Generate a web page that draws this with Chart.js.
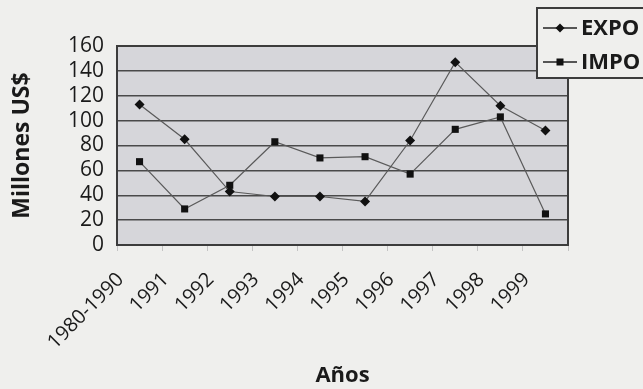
<!DOCTYPE html>
<html>
<head>
<meta charset="utf-8">
<script src="https://cdn.jsdelivr.net/npm/chart.js@4/dist/chart.umd.min.js"></script>
<style>
  html, body { margin: 0; padding: 0; background: #efefed; }
  #wrap { width: 643px; height: 389px; position: relative; }
</style>
</head>
<body>
<div id="wrap"><canvas id="grafico"></canvas></div>
<script>
// datos
const anios = ['1980-1990', '1991', '1992', '1993', '1994', '1995', '1996', '1997', '1998', '1999'];
const expo = [113, 85, 43, 39, 39, 35, 84, 147, 112, 92];
const impo = [67, 29, 48, 83, 70, 71, 57, 93, 103, 25];
const ticksY = [0, 20, 40, 60, 80, 100, 120, 140, 160];

const colorLinea = '#5a5a5a';
const colorMarca = '#111111';
const fuente = "'Open Sans', 'Noto Sans', sans-serif";

// fondo gris del area de trazado y su borde
const fondoPlot = {
  id: 'fondoPlot',
  beforeDraw(chart) {
    const { ctx, chartArea: a } = chart;
    ctx.save();
    ctx.fillStyle = '#d6d6da';
    ctx.fillRect(a.left, a.top, a.right - a.left, a.bottom - a.top);
    ctx.restore();
  },
  afterDatasetsDraw(chart) {
    const { ctx, chartArea: a } = chart;
    ctx.save();
    ctx.strokeStyle = '#3c3c3c';
    ctx.lineWidth = 2;
    ctx.strokeRect(a.left, a.top, a.right - a.left, a.bottom - a.top);
    ctx.restore();
  }
};

// leyenda con caja, como en el original
const leyenda = {
  id: 'leyenda',
  afterDraw(chart) {
    const { ctx } = chart;
    const x = 537, y = 8;
    ctx.save();
    ctx.fillStyle = '#efefed';
    ctx.fillRect(x, y, 120, 70);
    ctx.strokeStyle = '#3c3c3c';
    ctx.lineWidth = 2;
    ctx.strokeRect(x, y, 120, 70);
    chart.data.datasets.forEach((ds, i) => {
      const cy = y + 20 + i * 34;
      ctx.strokeStyle = '#222';
      ctx.lineWidth = 1.5;
      ctx.beginPath();
      ctx.moveTo(x + 6, cy);
      ctx.lineTo(x + 40, cy);
      ctx.stroke();
      ctx.fillStyle = colorMarca;
      const mx = x + 23;
      if (ds.pointStyle === 'rectRot') {
        ctx.beginPath();
        ctx.moveTo(mx, cy - 4.5);
        ctx.lineTo(mx + 4.5, cy);
        ctx.lineTo(mx, cy + 4.5);
        ctx.lineTo(mx - 4.5, cy);
        ctx.closePath();
        ctx.fill();
      } else {
        ctx.fillRect(mx - 3.5, cy - 3.5, 7, 7);
      }
      ctx.fillStyle = '#1a1a1a';
      ctx.font = 'bold 22px ' + fuente;
      ctx.textBaseline = 'middle';
      ctx.fillText(ds.label, x + 44, cy + 1);
    });
    ctx.restore();
  }
};

new Chart(document.getElementById('grafico'), {
  type: 'line',
  data: {
    labels: anios,
    datasets: [
      {
        label: 'EXPO',
        data: expo,
        borderColor: colorLinea,
        borderWidth: 1.2,
        pointStyle: 'rectRot',
        pointRadius: 5,
        pointBackgroundColor: colorMarca,
        pointBorderColor: colorMarca,
        pointBorderWidth: 0,
        tension: 0
      },
      {
        label: 'IMPO',
        data: impo,
        borderColor: colorLinea,
        borderWidth: 1.2,
        pointStyle: 'rect',
        pointRadius: 5,
        pointBackgroundColor: colorMarca,
        pointBorderColor: colorMarca,
        pointBorderWidth: 0,
        tension: 0
      }
    ]
  },
  options: {
    responsive: true,
    maintainAspectRatio: false,
    animation: false,
    layout: { padding: { top: 46, right: 75, left: 9, bottom: 0 } },
    plugins: {
      legend: { display: false },
      tooltip: { enabled: false }
    },
    scales: {
      x: {
        offset: true,
        grid: {
          offset: true,
          drawOnChartArea: false,
          drawTicks: true,
          tickLength: 6,
          color: '#c4c4c4'
        },
        border: { display: false },
        ticks: {
          color: '#1a1a1a',
          font: { family: fuente, size: 20 },
          minRotation: 45,
          maxRotation: 45,
          labelOffset: -19,
          padding: 17,
          autoSkip: false
        },
        title: {
          display: true,
          text: 'Años',
          color: '#1a1a1a',
          font: { family: fuente, size: 22, weight: 'bold' },
          padding: { top: 0, bottom: 0 }
        },
        afterFit(scale) { scale.height = 389 - 245; }
      },
      y: {
        min: 0,
        max: 160,
        afterBuildTicks(scale) { scale.ticks = ticksY.map(v => ({ value: v })); },
        grid: {
          color: '#4a4a4a',
          lineWidth: 1.5,
          drawTicks: false
        },
        border: { display: true, color: '#3c3c3c', width: 2 },
        ticks: {
          color: '#1a1a1a',
          font: { family: fuente, size: 21, lineHeight: 1 },
          padding: 13,
          autoSkip: false
        },
        title: {
          display: true,
          text: 'Millones US$',
          color: '#1a1a1a',
          font: { family: fuente, size: 23, weight: 'bold' },
          padding: { top: 0, bottom: 0 }
        },
        afterFit(scale) { scale.width = 117 - 9; }
      }
    }
  },
  plugins: [fondoPlot, leyenda]
});
</script>
</body>
</html>
